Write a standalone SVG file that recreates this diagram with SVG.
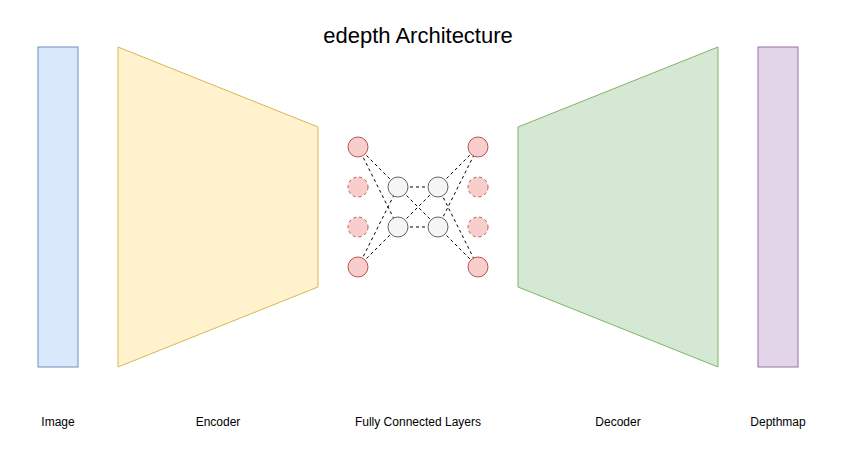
<svg xmlns="http://www.w3.org/2000/svg" width="841" height="458" viewBox="0 0 841 458">
<style>
text{font-family:"Liberation Sans",Arial,sans-serif;fill:#000;text-anchor:middle}
.lbl{font-size:12px}
.title{font-size:22px}
.red{fill:#f8cecc;stroke:#b85450;stroke-width:1}
.redd{fill:#f8cecc;stroke:#b85450;stroke-width:1;stroke-dasharray:3 3}
.gray{fill:#f5f5f5;stroke:#666666;stroke-width:1}
.conn{stroke:#000;stroke-width:1;stroke-dasharray:3 3;fill:none}
</style>
<rect width="841" height="458" fill="#ffffff"/>
<text class="title" x="418" y="43">edepth Architecture</text>
<g id="image">
<rect x="38" y="47" width="40" height="320" fill="#dae8fc" stroke="#6c8ebf"/>
<text class="lbl" x="58" y="426">Image</text>
</g>
<g id="encoder">
<polygon points="118,47 318,127 318,287 118,367" fill="#fff2cc" stroke="#d6b656"/>
<text class="lbl" x="218" y="426">Encoder</text>
</g>
<g id="decoder">
<polygon points="518,127 718,47 718,367 518,287" fill="#d5e8d4" stroke="#82b366"/>
<text class="lbl" x="618" y="426">Decoder</text>
</g>
<g id="depthmap">
<rect x="758" y="47" width="40" height="320" fill="#e1d5e7" stroke="#9673a6"/>
<text class="lbl" x="778" y="426">Depthmap</text>
</g>
<g id="connectors">
<line class="conn" x1="358" y1="147" x2="398" y2="187"/>
<line class="conn" x1="358" y1="147" x2="398" y2="227"/>
<line class="conn" x1="358" y1="267" x2="398" y2="187"/>
<line class="conn" x1="358" y1="267" x2="398" y2="227"/>
<line class="conn" x1="398" y1="187" x2="438" y2="187"/>
<line class="conn" x1="398" y1="227" x2="438" y2="227"/>
<line class="conn" x1="398" y1="187" x2="438" y2="227"/>
<line class="conn" x1="398" y1="227" x2="438" y2="187"/>
<line class="conn" x1="438" y1="187" x2="478" y2="147"/>
<line class="conn" x1="438" y1="227" x2="478" y2="147"/>
<line class="conn" x1="438" y1="187" x2="478" y2="267"/>
<line class="conn" x1="438" y1="227" x2="478" y2="267"/>
</g>
<g id="fc-layers">
<circle id="in1" class="red" cx="358" cy="147" r="10"/>
<circle id="in2" class="redd" cx="358" cy="187" r="10"/>
<circle id="in3" class="redd" cx="358" cy="227" r="10"/>
<circle id="in4" class="red" cx="358" cy="267" r="10"/>
<circle id="h1" class="gray" cx="398" cy="187" r="10"/>
<circle id="h2" class="gray" cx="398" cy="227" r="10"/>
<circle id="h3" class="gray" cx="438" cy="187" r="10"/>
<circle id="h4" class="gray" cx="438" cy="227" r="10"/>
<circle id="out1" class="red" cx="478" cy="147" r="10"/>
<circle id="out2" class="redd" cx="478" cy="187" r="10"/>
<circle id="out3" class="redd" cx="478" cy="227" r="10"/>
<circle id="out4" class="red" cx="478" cy="267" r="10"/>
<text class="lbl" x="418" y="426">Fully Connected Layers</text>
</g>
</svg>
